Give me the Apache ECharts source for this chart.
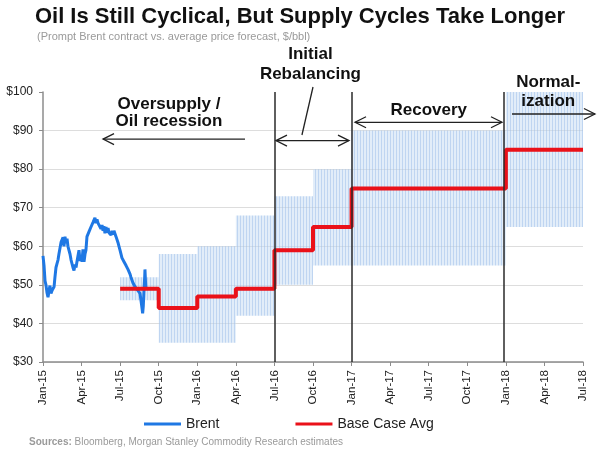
<!DOCTYPE html>
<html><head><meta charset="utf-8">
<script src="https://cdn.jsdelivr.net/npm/echarts/dist/echarts.min.js"></script>
<style>html,body{margin:0;padding:0;background:#fff}#c{width:600px;height:450px}</style>
</head><body><div id="c"></div>
<script>
// ---- data ----
const xTickLabels = ['Jan-15','Apr-15','Jul-15','Oct-15','Jan-16','Apr-16','Jul-16','Oct-16','Jan-17','Apr-17','Jul-17','Oct-17','Jan-18','Apr-18','Jul-18'];
// months since Jan-2015
const brentMonths = [0,0.08,0.16,0.23,0.31,0.39,0.47,0.54,0.62,0.70,0.78,0.86,0.93,1.01,1.09,1.17,1.24,1.32,1.40,1.48,
  1.56,1.63,1.71,1.79,1.87,1.94,2.02,2.10,2.18,2.26,2.33,2.41,2.49,2.57,2.64,2.72,2.80,2.88,2.96,3.03,
  3.11,3.19,3.27,3.34,3.42,3.50,3.58,3.66,3.73,3.81,3.89,3.97,4.04,4.12,4.20,4.28,4.36,4.43,4.51,4.59,
  4.67,4.74,4.82,4.90,4.98,5.06,5.13,5.21,5.29,5.37,5.44,5.52,5.60,5.68,5.76,5.83,5.91,5.99,6.07,6.14,
  6.22,6.30,6.38,6.46,6.53,6.61,6.69,6.77,6.84,6.92,7.00,7.08,7.16,7.23,7.31,7.39,7.47,7.54,7.62,7.70,
  7.75,7.80,7.86,7.91,7.93,7.97,8.01];
const brentValues = [57.5,55,51,50,48,46.8,48.5,49.8,47.8,48.5,48.6,49.5,52,54.5,55.5,56.5,58,58.5,61,60.5,
  62.3,60,62.5,60.8,62,60,59.5,58,56.5,56,54.5,53.7,55.3,54.5,56,55.5,59,56.2,57,56,
  59.2,56,58,59,62.5,62,63.8,63.5,65,64.5,66.2,66.5,67.4,66,67,66,65.5,66,64.5,65.5,
  64,65.2,63.4,65,63.5,64.7,63.5,63.8,62.9,64,63,64,63.5,62.5,62.8,61,60,59,58.5,57,
  56.5,56,55.5,55,54.5,54,53.5,52.8,52,51.5,50.5,50,49.5,49.2,49,48.5,48.2,47.8,46,44,
  42.6,44.5,49,52,54,51,48.7];
const baseMonths = [6,9,12,15,18,21,24,36,42];
const baseValues = [49,44,47,49,59,65,75,85,85];
const bandStart = [6,9,12,15,18,21,24,36];
const bandEnd   = [9,12,15,18,21,24,36,42];
const bandLow   = [46,35,35,42,50,55,55,65];
const bandHigh  = [52,58,60,68,73,80,90,100];
const phaseLines = [18,24,35.8];

// ---- chart ----
const chart = echarts.init(document.getElementById('c'), null, {renderer:'canvas'});
const pc = document.createElement('canvas'); pc.width = 3; pc.height = 4;
const g = pc.getContext('2d');
g.fillStyle = 'rgba(197,219,243,0.5)'; g.fillRect(0,0,3,4);
g.fillStyle = 'rgba(149,185,231,0.45)'; g.fillRect(0,0,1,4);
const bandFill = {image: pc, repeat: 'repeat'};
const FONT = '"Liberation Sans", Arial, Helvetica, sans-serif';

const option = {
  animation: false,
  textStyle: {fontFamily: FONT},
  title: [
    {text: 'Oil Is Still Cyclical, But Supply Cycles Take Longer', left: 'center', top: 6, padding: 0,
     textStyle: {fontSize: 22, fontWeight: 'bold', color: '#111', fontFamily: FONT}},
    {text: '(Prompt Brent contract vs. average price forecast, $/bbl)', left: 37, top: 31, padding: 0,
     textStyle: {fontSize: 11, fontWeight: 'normal', color: '#9a9a9a', fontFamily: FONT}},
    {text: '{b|Sources:} Bloomberg, Morgan Stanley Commodity Research estimates', left: 29, top: 437, padding: 0,
     textStyle: {fontSize: 10, fontWeight: 'normal', color: '#9a9a9a', fontFamily: FONT,
       rich: {b: {fontSize: 10, fontWeight: 'bold', color: '#9a9a9a', fontFamily: FONT}}}}
  ],
  legend: {
    data: [{name: 'Brent', icon: 'rect'}, {name: 'Base Case Avg', icon: 'rect'}],
    left: 144, top: 417, padding: 0, itemWidth: 37, itemHeight: 3, itemGap: 76,
    textStyle: {fontSize: 14, color: '#222', fontFamily: FONT}
  },
  grid: {left: 43, right: 17, top: 92, bottom: 88},
  xAxis: {
    type: 'value', min: 0, max: 42, interval: 3,
    axisLine: {lineStyle: {color: '#8c8c8c', width: 1.5}},
    axisTick: {show: true, length: 4, lineStyle: {color: '#8c8c8c'}},
    axisLabel: {rotate: 90, margin: 8, fontSize: 11.5, color: '#222', fontFamily: FONT,
      formatter: v => xTickLabels[Math.round(v / 3)] || ''},
    splitLine: {show: false}
  },
  yAxis: {
    type: 'value', min: 30, max: 100, interval: 10,
    axisLine: {show: true, lineStyle: {color: '#8c8c8c', width: 1.5}},
    axisTick: {show: true, length: 4, lineStyle: {color: '#8c8c8c'}},
    axisLabel: {margin: 10, fontSize: 12, color: '#222', fontFamily: FONT, formatter: v => '$' + v},
    splitLine: {show: true, showMaxLine: false, lineStyle: {color: '#dddddd', width: 1}}
  },
  series: [
    {
      type: 'custom', name: 'range', silent: true, z: 1,
      encode: {x: [0, 1], y: [2, 3]},
      data: bandStart.map((s, i) => [s, bandEnd[i], bandLow[i], bandHigh[i]]),
      renderItem: function (params, api) {
        const p1 = api.coord([api.value(0), api.value(3)]);
        const p2 = api.coord([api.value(1), api.value(2)]);
        return {type: 'rect', shape: {x: p1[0], y: p1[1], width: p2[0] - p1[0], height: p2[1] - p1[1]},
          style: {fill: bandFill}};
      }
    },
    {
      type: 'line', name: 'Brent', z: 3, showSymbol: false, symbol: 'none',
      data: brentMonths.map((m, i) => [m, brentValues[i]]),
      lineStyle: {color: '#1f78e4', width: 3}, itemStyle: {color: '#1f78e4'}
    },
    {
      type: 'line', name: 'Base Case Avg', z: 4, step: 'end', showSymbol: false, symbol: 'none',
      data: baseMonths.map((m, i) => [m, baseValues[i]]),
      lineStyle: {color: '#ea1119', width: 4}, itemStyle: {color: '#ea1119'},
      markLine: {
        silent: true, symbol: ['none', 'none'], label: {show: false},
        lineStyle: {color: '#2a2a2a', width: 1.5, type: 'solid'},
        emphasis: {disabled: true},
        data: phaseLines.map(v => ({xAxis: v}))
      }
    }
  ]
};
chart.setOption(option);

// ---- annotations (placed in data space) ----
const P = (m, v) => chart.convertToPixel({gridIndex: 0}, [m, v]);
const arrows = [
  {from: 15.71, to: 4.67, v: 87.8, both: false},
  {from: 18.12, to: 23.8, v: 87.4, both: true},
  {from: 24.27, to: 35.7, v: 92.15, both: true},
  {from: 36.48, to: 42.93, v: 94.3, both: false}
];
const texts = [
  {t: 'Oversupply /', m: 9.8, v: 96.9},
  {t: 'Oil recession', m: 9.8, v: 92.4},
  {t: 'Initial', m: 20.8, v: 109.9},
  {t: 'Rebalancing', m: 20.8, v: 104.6},
  {t: 'Recovery', m: 30.0, v: 95.3},
  {t: 'Normal-', m: 39.3, v: 102.4},
  {t: 'ization', m: 39.3, v: 97.5}
];
const els = [];
const stroke = {stroke: '#222', lineWidth: 1.3, fill: null};
function head(tip, dir) {
  return {type: 'polyline', silent: true, z: 100, shape: {points: [[tip[0] - dir * 11, tip[1] - 5.5], tip, [tip[0] - dir * 11, tip[1] + 5.5]]}, style: stroke};
}
arrows.forEach(a => {
  const p1 = P(a.from, a.v), p2 = P(a.to, a.v);
  els.push({type: 'line', silent: true, z: 100, shape: {x1: p1[0], y1: p1[1], x2: p2[0], y2: p2[1]}, style: stroke});
  const dir = p2[0] > p1[0] ? 1 : -1;
  els.push(head(p2, dir));
  if (a.both) els.push(head(p1, -dir));
});
const l1 = P(21.0, 101.3), l2 = P(20.14, 88.85);
els.push({type: 'line', silent: true, z: 100, shape: {x1: l1[0], y1: l1[1], x2: l2[0], y2: l2[1]}, style: stroke});
texts.forEach(o => {
  const p = P(o.m, o.v);
  els.push({type: 'text', silent: true, z: 100, x: p[0], y: p[1],
    style: {text: o.t, textAlign: 'center', textVerticalAlign: 'middle', fill: '#111',
      font: 'bold 17px ' + FONT}});
});
chart.setOption({graphic: {z: 100, elements: els}});
</script>
</body></html>
